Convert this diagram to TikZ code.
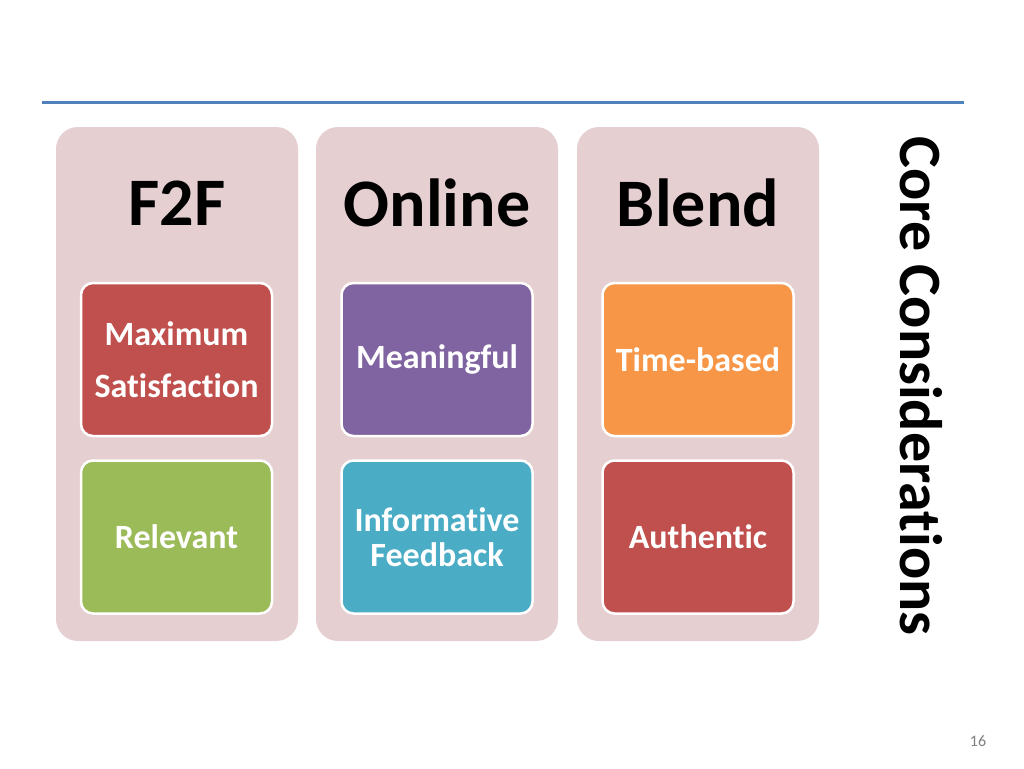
\documentclass[tikz,border=0pt]{standalone}
\usepackage{fontspec}
\setmainfont[Ligatures=NoCommon]{Carlito}
\usepackage{tikz}
\usetikzlibrary{positioning}
\definecolor{colbg}{HTML}{E6CFD1}
\definecolor{rule}{HTML}{4F81BD}
\definecolor{redbox}{HTML}{C0504D}
\definecolor{greenbox}{HTML}{9BBB59}
\definecolor{purplebox}{HTML}{8064A2}
\definecolor{cyanbox}{HTML}{4BACC6}
\definecolor{orangebox}{HTML}{F79646}
\tikzset{
	column/.style={fill=colbg,rounded corners=22pt,minimum width=242pt,minimum height=514pt,inner sep=0pt},
	title/.style={font=\fontsize{68}{68}\selectfont\bfseries,inner sep=0pt},
	item/.style={draw=white,line width=2.5pt,rounded corners=12pt,minimum width=191pt,minimum height=153pt,
		text=white,align=center,inner sep=0pt,font=\fontsize{34}{35}\selectfont\bfseries}
}

\begin{document}
\begin{tikzpicture}[x=1pt,y=-1pt]
	\useasboundingbox[fill=white] (0,0) rectangle (1024,768);
	
	%Ligne du titre
	\coordinate (L) at (42,102);
	\coordinate (R) at (964,102);
	\draw[rule,line width=3pt] (L) -- (R);
	
	%Colonnes
	\node[column] (colA) at (177,384) {};
	\node[column] (colB) at (437,384) {};
	\node[column] (colC) at (698,384) {};
	
	\node[title] (tA) at (177,203) {F2F};
	\node[title] (tB) at (437,203) {Online};
	\node[title] (tC) at (698,203) {Blend};
	
	%Boites
	\node[item,fill=redbox,font=\fontsize{34}{52}\selectfont\bfseries] (a1) at (176.5,359.5) {Maximum\\Satisfaction};
	\node[item,fill=greenbox] (a2) at (176.5,537) {Relevant};
	\node[item,fill=purplebox] (b1) at (437,359.5) {Meaningful};
	\node[item,fill=cyanbox] (b2) at (437,537) {Informative\\Feedback};
	\node[item,fill=orangebox] (c1) at (698,359.5) {Time-based};
	\node[item,fill=redbox] (c2) at (698,537) {Authentic};
	
	%Texte vertical
	\node[rotate=-90,inner sep=0pt,font=\fontsize{60}{60}\selectfont\bfseries] (core) at (921,386) {Core Considerations};
	
	\node[text=black!50,font=\fontsize{16}{16}\selectfont] (num) at (978,741) {16};
	
\end{tikzpicture}
\end{document}
